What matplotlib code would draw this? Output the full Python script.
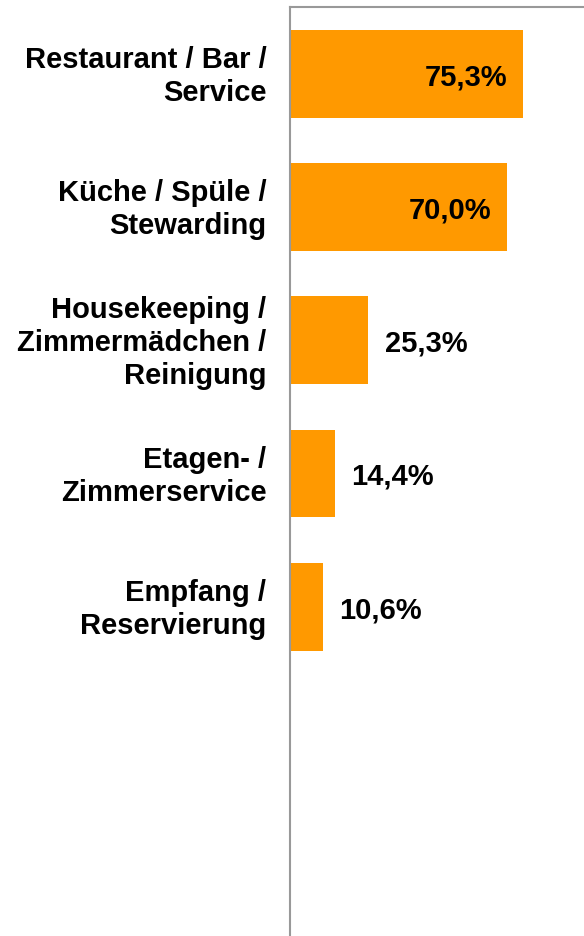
import matplotlib
matplotlib.use("Agg")
import matplotlib.pyplot as plt
from matplotlib.transforms import ScaledTranslation

categories = ["Restaurant / Bar /\nService",
              "Küche / Spüle /\nStewarding",
              "Housekeeping /\nZimmermädchen /\nReinigung",
              "Etagen- /\nZimmerservice",
              "Empfang /\nReservierung"]
values = [75.3, 70.0, 25.3, 14.4, 10.6]
value_labels = ["75,3%", "70,0%", "25,3%", "14,4%", "10,6%"]

plt.rcParams['font.family'] = ['Liberation Sans', 'DejaVu Sans']

W, H = 584, 936
fig = plt.figure(figsize=(W / 100, H / 100), dpi=100)
left = 290 / W
top_px = 7
bottom_px = 940
ax = fig.add_axes([left, (H - bottom_px) / H, 310 / W, (bottom_px - top_px) / H])

pos = list(range(len(values)))
ax.barh(pos, values, height=0.66, color="#FF9900", zorder=2)
ax.set_xlim(0, 100)
ax.set_ylim(6.5, -0.5)

ax.set_yticks(pos)
ax.set_yticklabels(categories, fontsize=21, fontweight='bold', linespacing=1.24,
                   multialignment='right')
ax.tick_params(axis='y', length=0, pad=17)
ax.set_xticks([])
shift = ScaledTranslation(0, 3 / 100, fig.dpi_scale_trans)
for t in ax.get_yticklabels():
    t.set_transform(t.get_transform() + shift)

for p, v, lab in zip(pos, values, value_labels):
    if v > 50:
        ax.annotate(lab, (v, p), xytext=(-11.5, -2.5), textcoords='offset points',
                    ha='right', va='center', fontsize=21, fontweight='bold', color='black')
    else:
        ax.annotate(lab, (v, p), xytext=(12, -2.5), textcoords='offset points',
                    ha='left', va='center', fontsize=21, fontweight='bold', color='black')

for s in ['left', 'top', 'right', 'bottom']:
    ax.spines[s].set_color('#999999')
    ax.spines[s].set_linewidth(1.5)

fig.savefig("out.png", dpi=100)
